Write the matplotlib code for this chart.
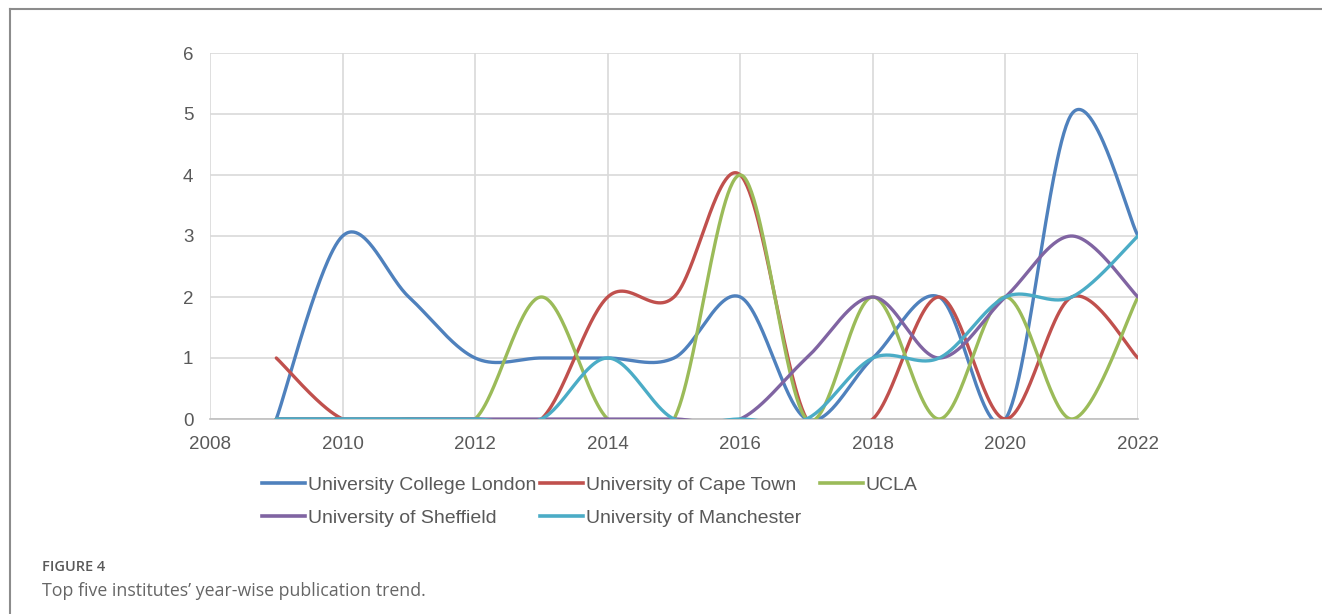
import numpy as np
import matplotlib
matplotlib.use("Agg")
import matplotlib.pyplot as plt
from matplotlib.lines import Line2D

years = [2009, 2010, 2011, 2012, 2013, 2014, 2015, 2016, 2017, 2018, 2019, 2020, 2021, 2022]
ucl = [0, 3, 2, 1, 1, 1, 1, 2, 0, 1, 2, 0, 5, 3]
cape_town = [1, 0, 0, 0, 0, 2, 2, 4, 0, 0, 2, 0, 2, 1]
ucla = [0, 0, 0, 0, 2, 0, 0, 4, 0, 2, 0, 2, 0, 2]
sheffield = [0, 0, 0, 0, 0, 0, 0, 0, 1, 2, 1, 2, 3, 2]
manchester = [0, 0, 0, 0, 0, 1, 0, 0, 0, 1, 1, 2, 2, 3]

series_names = ["University College London", "University of Cape Town", "UCLA",
                "University of Sheffield", "University of Manchester"]
series_values = [ucl, cape_town, ucla, sheffield, manchester]
colors = ["#4F81BD", "#C0504D", "#9BBB59", "#8064A2", "#4BACC6"]

x_ticks = [2008, 2010, 2012, 2014, 2016, 2018, 2020, 2022]
y_ticks = [0, 1, 2, 3, 4, 5, 6]

TXT = "#595959"
plt.rcParams["font.family"] = ["Liberation Sans", "DejaVu Sans"]


def smooth(xs, ys, n=60):
    xs = np.asarray(xs, float)
    ys = np.asarray(ys, float)
    P = np.column_stack([xs, ys])
    m = len(P)
    out = []
    for i in range(m - 1):
        p0 = P[i - 1] if i > 0 else P[i]
        p1 = P[i]
        p2 = P[i + 1]
        p3 = P[i + 2] if i + 2 < m else P[i + 1]
        c1 = p1 + (p2 - p0) / 6.0
        c2 = p2 - (p3 - p1) / 6.0
        t = np.linspace(0, 1, n)[:, None]
        seg = ((1 - t) ** 3) * p1 + 3 * ((1 - t) ** 2) * t * c1 + 3 * (1 - t) * t ** 2 * c2 + t ** 3 * p2
        if i > 0:
            seg = seg[1:]
        out.append(seg)
    pts = np.vstack(out)
    return pts[:, 0], pts[:, 1]


fig = plt.figure(figsize=(13.22, 6.14), dpi=100)
ax = fig.add_axes([210 / 1322, 1 - 419 / 614, (1138 - 210) / 1322, (419 - 53) / 614])

for vals, col in zip(series_values, colors):
    sx, sy = smooth(years, vals)
    ax.plot(sx, sy, color=col, lw=2.4, solid_capstyle="round", zorder=3)

ax.set_xlim(2008, 2022)
ax.set_ylim(0, 6)
ax.set_xticks(x_ticks)
ax.set_yticks(y_ticks)
ax.set_xticklabels([str(v) for v in x_ticks])
ax.set_yticklabels([str(v) for v in y_ticks])
ax.grid(True, color="#D9D9D9", lw=1.2, zorder=0)
ax.set_axisbelow(True)
for s in ["top", "right", "left"]:
    ax.spines[s].set_visible(False)
ax.spines["bottom"].set_color("#BFBFBF")
ax.spines["bottom"].set_linewidth(1.2)
ax.tick_params(axis="both", length=0, labelsize=13.5, labelcolor=TXT)
ax.tick_params(axis="x", pad=12)
ax.tick_params(axis="y", pad=12)

# legend: three columns placed like the reference
handles = [Line2D([], [], color=c, lw=2.6) for c in colors]
cols = [([0, 3], 262), ([1, 4], 540), ([2], 820)]
for idx, xpix in cols:
    leg = fig.legend([handles[i] for i in idx], [series_names[i] for i in idx],
                     loc="upper left", bbox_to_anchor=(xpix / 1322, 1 - 476 / 614),
                     frameon=False, fontsize=14, handlelength=2.2, handletextpad=0.15,
                     labelspacing=0.8, borderaxespad=0, borderpad=0, labelcolor=TXT)

# outer frame lines (left and top)
fig.add_artist(Line2D([9.5 / 1322, 9.5 / 1322], [0, 1 - 9 / 614], color="#8C8C8C", lw=1.5,
                      transform=fig.transFigure))
fig.add_artist(Line2D([9.5 / 1322, 1], [1 - 9 / 614, 1 - 9 / 614], color="#8C8C8C", lw=1.5,
                      transform=fig.transFigure))

fig.text(42 / 1322, 1 - 567 / 614, "FIGURE 4", fontsize=10.5, color="#5a5a5a",
         family=["Open Sans", "DejaVu Sans"], weight="semibold", va="center")
fig.text(42 / 1322, 1 - 591 / 614, "Top five institutes\u2019 year-wise publication trend.",
         fontsize=12.8, color="#666666", family=["Open Sans", "DejaVu Sans"], va="center")

fig.savefig("out.png", dpi=100, facecolor="white")
